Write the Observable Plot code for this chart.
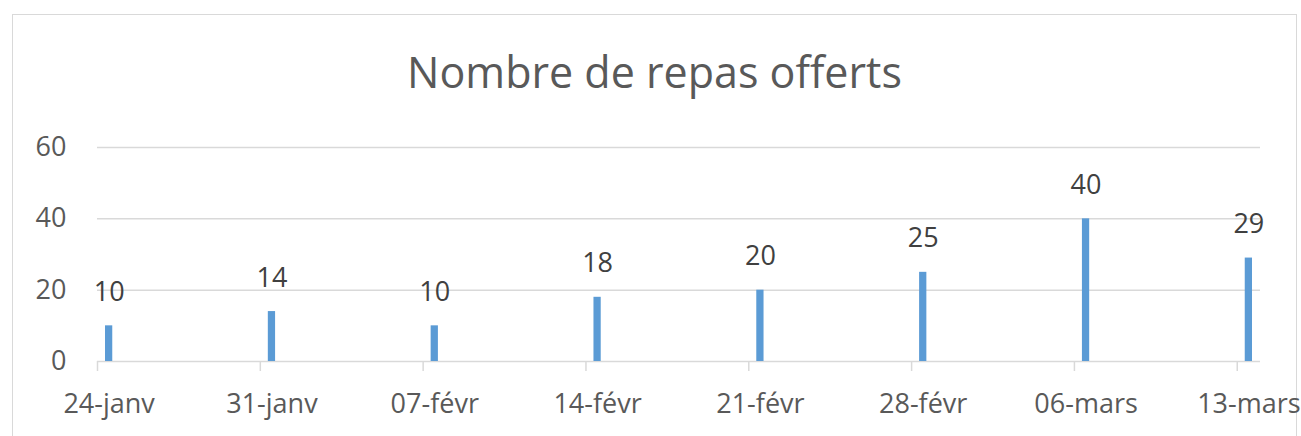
<!DOCTYPE html>
<html><head><meta charset="utf-8">
<script src="https://cdn.jsdelivr.net/npm/d3@7"></script>
<script src="https://cdn.jsdelivr.net/npm/@observablehq/plot@0.6"></script>
<style>
body{margin:0;background:#fff;width:1301px;height:436px;overflow:hidden;position:relative;font-family:"Open Sans",sans-serif;}
#frame{position:absolute;left:12px;top:14px;width:1285px;height:450px;border:1.5px solid #d9d9d9;box-sizing:border-box;}
#title{position:absolute;left:12px;top:50px;width:1285px;text-align:center;font-size:43px;line-height:43px;color:#595959;font-family:"Open Sans",sans-serif;}
#chart{position:absolute;left:0;top:120px;}
</style></head>
<body>
<div id="frame"></div>
<div id="title">Nombre de repas offerts</div>
<div id="chart"></div>
<script>
const dates = ["2020-01-24","2020-01-31","2020-02-07","2020-02-14","2020-02-21","2020-02-28","2020-03-06","2020-03-13"];
const values = [10,14,10,18,20,25,40,29];
const tickLabels = ["24-janv","31-janv","07-févr","14-févr","21-févr","28-févr","06-mars","13-mars"];
const yTicks = [0,20,40,60];

const data = dates.map((d,i)=>({date:new Date(d), value:values[i], label:tickLabels[i]}));
const tickDates = data.map(d=>d.date);
const midDates = data.map(d=>d3.utcHour.offset(d.date,12));
const labelByTime = new Map(midDates.map((d,i)=>[+d, tickLabels[i]]));

const chart = Plot.plot({
  width:1301, height:316,
  marginTop:27, marginBottom:75, marginLeft:97, marginRight:41,
  style:{fontFamily:"'Open Sans', sans-serif", fontSize:"27px", color:"#595959", background:"transparent", overflow:"visible"},
  x:{type:"utc", label:null, domain:[tickDates[0], d3.utcDay.offset(tickDates[tickDates.length-1],1)]},
  y:{domain:[0,60], label:null},
  marks:[
    Plot.ruleY(yTicks, {stroke:"#d9d9d9", strokeWidth:1.5}),
    Plot.axisX(tickDates, {tickSize:10, tickFormat:()=>"", label:null, stroke:"#d9d9d9", strokeWidth:1.5, strokeOpacity:1}),
    Plot.axisX(midDates, {tickSize:0, tickPadding:32, label:null, tickFormat:d=>labelByTime.get(+d), fill:"#595959", fontSize:27}),
    Plot.axisY(yTicks, {tickSize:0, tickPadding:31, label:null, fill:"#595959", fontSize:27}),
    Plot.rectY(data, {x1:"date", x2:d=>d3.utcDay.offset(d.date,1), y:"value", insetLeft:8, insetRight:8, fill:"#5b9bd5"}),
    Plot.text(data, {x:d=>d3.utcHour.offset(d.date,12), y:"value", text:d=>String(d.value), lineAnchor:"bottom", dy:-25, fill:"#404040", fontSize:27})
  ]
});
document.getElementById("chart").appendChild(chart);
</script>
</body></html>
